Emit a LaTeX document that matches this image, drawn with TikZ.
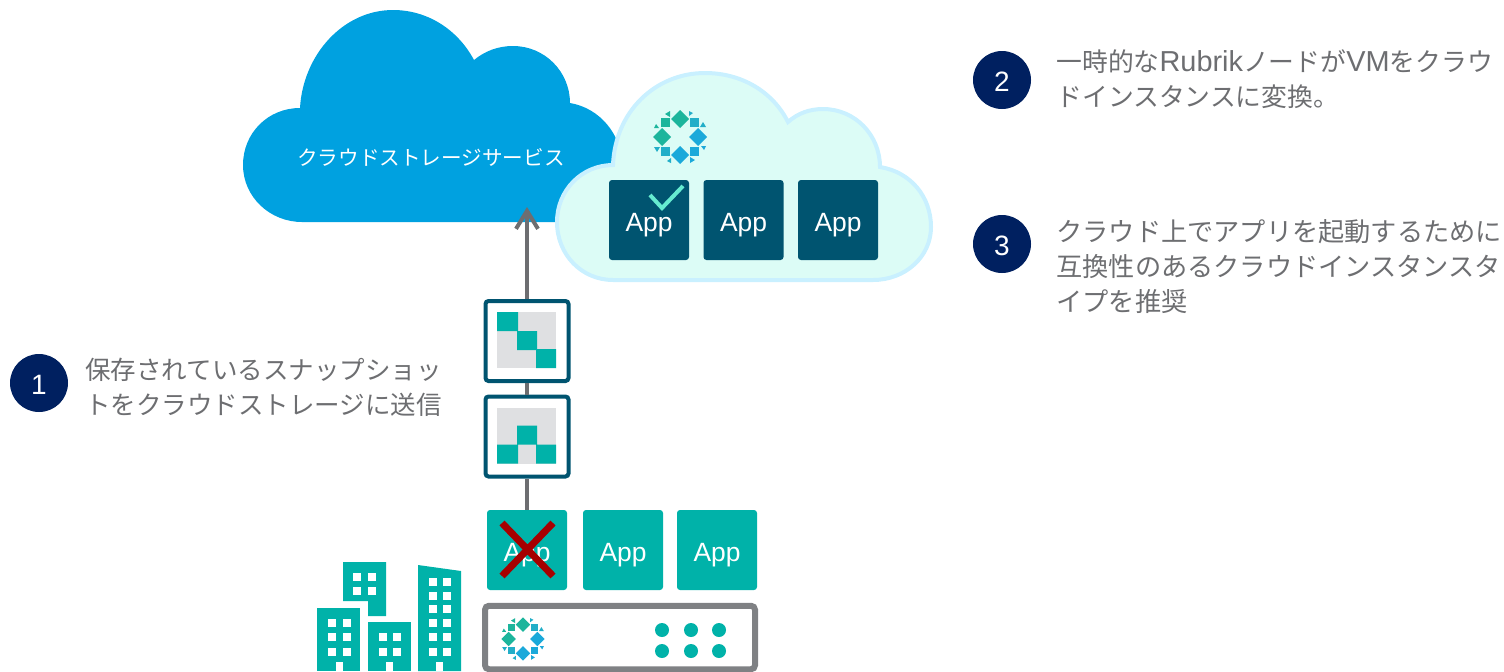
\documentclass[tikz,border=0pt]{standalone}
\usepackage{fontspec}
\setmainfont{Liberation Sans}
\newfontfamily\jp{Noto Sans CJK JP}
\newfontfamily\latinpart[Scale=1.12]{Liberation Sans}
\usepackage{tikz}
\usetikzlibrary{arrows.meta}

\definecolor{skyblue}{HTML}{00A1E0}
\definecolor{mintfill}{HTML}{DCFCF6}
\definecolor{mintline}{HTML}{C9F0FF}
\definecolor{checkmint}{HTML}{66EBD0}
\definecolor{tealapp}{HTML}{00B2A9}
\definecolor{darkapp}{HTML}{005470}
\definecolor{navy}{HTML}{002060}
\definecolor{pipe}{HTML}{6D6E71}
\definecolor{rack}{HTML}{7F8184}
\definecolor{gridgray}{HTML}{DFE0E2}
\definecolor{markgreen}{HTML}{1CB59C}
\definecolor{markcyan}{HTML}{22AEC8}
\definecolor{markblue}{HTML}{1BA9DA}

\tikzset{
  appbox/.style={rectangle, rounded corners=1.5pt, minimum size=40pt, inner sep=0pt,
    text=white, text height=11pt, text depth=0pt, font=\fontsize{13.2}{16}\selectfont},
  snapbox/.style={rectangle, draw=darkapp, line width=2pt, rounded corners=1.5pt, fill=white,
    minimum width=41.5pt, minimum height=40pt, inner sep=0pt},
  stepnum/.style={circle, fill=navy, text=white, minimum size=29pt, inner sep=0pt,
    text height=11pt, text depth=0pt, font=\fontsize{14}{16}\selectfont},
  steptext/.style={anchor=west, align=left, inner sep=0pt, text=pipe,
    font=\fontsize{12.9}{17.5}\selectfont},
  flowline/.style={draw=pipe, line width=2pt},
  window/.style={fill=white},
}

\newcommand{\rubrikmark}[3]{
  \begin{scope}[shift={(#1,#2)}, scale=#3]
    \foreach \turn/\sidecol/\cornercol in {0/markgreen/markcyan, 90/markgreen/markgreen,
        180/markblue/markcyan, 270/markblue/markblue} {
      \begin{scope}[rotate=\turn]
        \fill[\sidecol] (0,-27) -- (9,-18) -- (0,-9) -- (-9,-18) -- cycle;
        \fill[\cornercol] (10,-19) rectangle (19,-10);
        \fill[\cornercol] (9,-26) -- (13,-24) -- (9,-21) -- cycle;
        \fill[\cornercol] (23,-15) -- (26,-10) -- (20,-10) -- cycle;
      \end{scope}
    }
  \end{scope}
}

\begin{document}
\begin{tikzpicture}[x=0.5pt, y=-0.5pt, >={Straight Barb[length=9pt,width=11pt]}, node distance=47.5pt]
  \useasboundingbox (0,0) rectangle (1504,671);

  % clouds
  \fill[skyblue] (300,108) .. controls (303,55) and (343,10) .. (393,10)
    .. controls (428,10) and (458,30) .. (474,60)
    .. controls (485,51) and (498,46) .. (513,46)
    .. controls (545,46) and (570,72) .. (570,103)
    .. controls (600,108) and (622,135) .. (622,165)
    .. controls (622,197) and (597,222) .. (565,222) -- (302,222)
    .. controls (270,222) and (243,197) .. (243,165)
    .. controls (243,133) and (268,108) .. (300,108) -- cycle;
  \node[text=white, inner sep=0pt, font=\fontsize{10.3}{12}\selectfont\jp] (storage) at (431,157) {クラウドストレージサービス};
  \coordinate (storagein) at (527,207);

  \draw[fill=mintfill, draw=mintline, line width=2pt] (613,165) .. controls (615,112) and (655,73) .. (705,73)
    .. controls (742,73) and (773,92) .. (788,122)
    .. controls (798,113) and (810,109) .. (823,109)
    .. controls (855,109) and (880,135) .. (880,167)
    .. controls (911,172) and (931,197) .. (931,227)
    .. controls (931,257) and (905,280) .. (873,280) -- (613,280)
    .. controls (582,280) and (557,255) .. (557,222)
    .. controls (557,190) and (582,165) .. (613,165) -- cycle;
  \rubrikmark{680}{137}{1}

  % apps in the cloud
  \node[appbox, fill=darkapp] (cloudapp1) at (649,220)        {App};
  \node[appbox, fill=darkapp, node distance=47.25pt] (cloudapp2) [right of=cloudapp1] {App};
  \node[appbox, fill=darkapp, node distance=47.25pt] (cloudapp3) [right of=cloudapp2] {App};
  \draw[draw=checkmint, line width=2pt] (650,195) -- (662,208) -- (683,186);

  % apps on site
  \node[appbox, fill=tealapp] (siteapp1) at (527,550)        {App};
  \node[appbox, fill=tealapp] (siteapp2) at (623,550)        {App};
  \node[appbox, fill=tealapp] (siteapp3) [right of=siteapp2, node distance=47pt] {App};
  \begin{scope}[shift={(siteapp1)}]
    \draw[color=red!65!black, line width=3.5pt] (-25,-27) -- (26,26) (26,-27) -- (-25,26);
  \end{scope}

  % snapshots
  \node[snapbox] (snap2) [above of=siteapp1, node distance=56.75pt] {};
  \node[snapbox] (snap1) [above of=snap2, node distance=47.75pt] {};
  \begin{scope}[shift={(snap1)}]
    \fill[gridgray] (-30,-29) rectangle (29,27);
    \fill[tealapp] (-30,-29) rectangle (-9,-10) (-10,-10) rectangle (10,9) (9,8) rectangle (29,27);
  \end{scope}
  \begin{scope}[shift={(snap2)}]
    \fill[gridgray] (-30,-29) rectangle (29,27);
    \fill[tealapp] (-10,-11) rectangle (10,8) (-30,8) rectangle (-9,27) (9,8) rectangle (29,27);
  \end{scope}

  \draw[flowline] (siteapp1.north) -- (snap2.south);
  \draw[flowline] (snap2.north) -- (snap1.south);
  \draw[flowline, ->] (snap1.north) -- (storagein);

  % server
  \node[rectangle, draw=rack, line width=3pt, rounded corners=2pt, fill=white, inner sep=0pt,
    minimum width=135pt, minimum height=31.75pt] (server) at (620,637.5) {};
  \rubrikmark{523}{639}{0.8}
  \foreach \dotx in {662,691,719}
    \foreach \doty in {630,651}
      \fill[tealapp] (\dotx,\doty) circle (7);

  % buildings
  \fill[tealapp] (343,562) -- (386,562) -- (386,616) -- (368,616) -- (368,601) -- (343,601) -- cycle;
  \fill[tealapp] (317,608) rectangle (360,671);
  \fill[tealapp] (368,622) rectangle (411,671);
  \fill[tealapp] (418,565) -- (461,571) -- (461,671) -- (418,671) -- cycle;
  \foreach \winx in {353,368}
    \foreach \winy in {573,587}
      \fill[window] (\winx,\winy) rectangle +(7.5,7.5);
  \foreach \winx in {328,343}
    \foreach \winy in {619,633,648}
      \fill[window] (\winx,\winy) rectangle +(7.5,7.5);
  \foreach \winx in {379,393}
    \foreach \winy in {633,648}
      \fill[window] (\winx,\winy) rectangle +(7.5,7.5);
  \foreach \winx in {429,443}
    \foreach \winy in {578,592,605,619,633,648}
      \fill[window] (\winx,\winy) rectangle +(7.5,7.5);
  \foreach \doorx in {336,386,436}
    \fill[window] (\doorx,662) rectangle +(7,9);

  % steps
  \node[stepnum] (num1) at (39,383)   {1};
  \node[stepnum] (num2) at (1002,80)  {2};
  \node[stepnum] (num3) at (1002,244) {3};
  \node[steptext, font=\fontsize{12.75}{17.5}\selectfont] (text1) at (85,387) {\jp 保存されているスナップショッ\\\jp トをクラウドストレージに送信};
  \node[steptext] (text2) at (1056,79) {{\jp 一時的な}{\latinpart Rubrik}{\jp ノードが}{\latinpart VM}{\jp をクラウ}\\\jp ドインスタンスに変換。};
  \node[steptext, font=\fontsize{13.1}{17.5}\selectfont] (text3) at (1056,267) {\jp クラウド上でアプリを起動するために\\\jp 互換性のあるクラウドインスタンスタ\\\jp イプを推奨};
\end{tikzpicture}
\end{document}
